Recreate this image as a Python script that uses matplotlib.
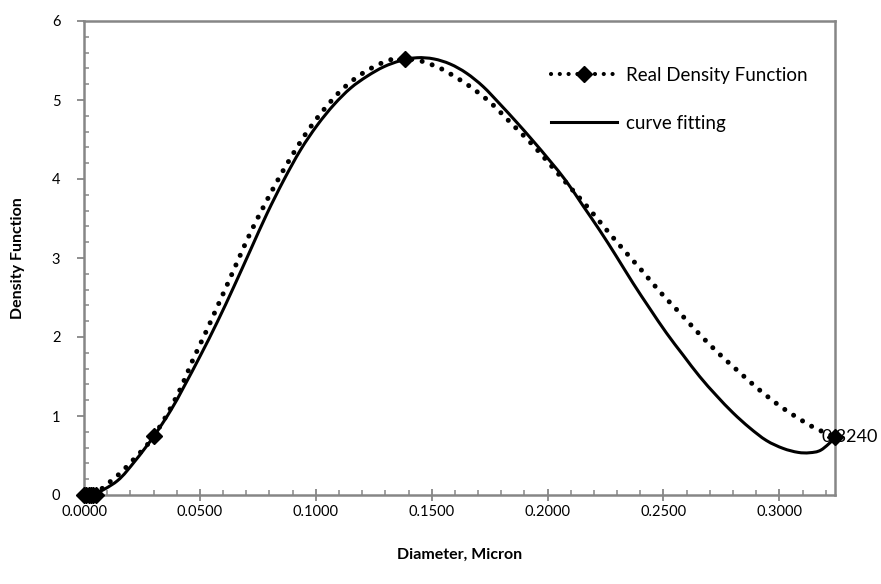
import numpy as np
import matplotlib
matplotlib.use("Agg")
import matplotlib.pyplot as plt
from matplotlib.path import Path
from matplotlib.patches import PathPatch
from matplotlib.ticker import MultipleLocator, FormatStrFormatter
from matplotlib.lines import Line2D

plt.rcParams['font.family'] = ['Lato', 'DejaVu Sans']

# real density function: measured points (markers)
real_x = [0.0000, 0.0010, 0.0020, 0.0030, 0.0040, 0.0050, 0.0302, 0.1387, 0.3240]
real_y = [0.0, 0.0, 0.0, 0.0, 0.0, 0.0, 0.747, 5.52, 0.735]

# points
dot_x = [0.0000, 0.0025, 0.0050, 0.0086, 0.0136, 0.0180, 0.0223, 0.0266, 0.0302,
         0.0366, 0.0420, 0.0468, 0.0520, 0.0570, 0.0619, 0.0668, 0.0718, 0.0773,
         0.0830, 0.0890, 0.0955, 0.1027, 0.1108, 0.1203, 0.1312, 0.1387, 0.1444,
         0.1504, 0.1559, 0.1661, 0.1757, 0.1843, 0.1930, 0.2009, 0.2091, 0.2171,
         0.2249, 0.2329, 0.2407, 0.2487, 0.2569, 0.2652, 0.2739, 0.2828, 0.2918,
         0.3015, 0.3118, 0.3173, 0.3240]
dot_y = [0.0, 0.0, 0.0, 0.105, 0.223, 0.346, 0.478, 0.613, 0.747,
         1.06, 1.37, 1.70, 2.025, 2.35, 2.67, 2.995, 3.32, 3.64,
         3.954, 4.26, 4.565, 4.85, 5.118, 5.34, 5.50, 5.52, 5.50,
         5.443, 5.367, 5.18, 4.958, 4.705, 4.45, 4.19, 3.915, 3.65,
         3.375, 3.10, 2.84, 2.565, 2.31, 2.046, 1.79, 1.553, 1.32,
         1.10, 0.906, 0.82, 0.735]

# curve fitting line
fit_x = [0.0043, 0.0144, 0.0220, 0.0302, 0.0374, 0.0431, 0.0503, 0.0575, 0.0647,
         0.0718, 0.0790, 0.0862, 0.0934, 0.1006, 0.1078, 0.1150, 0.1221, 0.1293,
         0.1365, 0.1437, 0.1509, 0.1580, 0.1650, 0.1722, 0.1794, 0.1866, 0.1938,
         0.2010, 0.2081, 0.2153, 0.2225, 0.2297, 0.2369, 0.2441, 0.2513, 0.2585,
         0.2656, 0.2728, 0.2800, 0.2872, 0.2944, 0.3016, 0.3080, 0.3130, 0.3180,
         0.3240]
fit_y = [0.0, 0.18, 0.43, 0.747, 1.07, 1.37, 1.77, 2.19, 2.64,
         3.10, 3.565, 3.987, 4.367, 4.68, 4.94, 5.15, 5.30, 5.42,
         5.497, 5.535, 5.52, 5.455, 5.34, 5.17, 4.95, 4.72, 4.48,
         4.23, 3.97, 3.66, 3.35, 3.02, 2.68, 2.36, 2.05, 1.77,
         1.50, 1.26, 1.04, 0.85, 0.69, 0.59, 0.54, 0.535, 0.57,
         0.72]


def smooth_path(xs, ys):
    # catmull-rom style bezier, like excel's "smoothed line"
    pts = np.column_stack([xs, ys])
    verts = [pts[0]]
    codes = [Path.MOVETO]
    n = len(pts)
    for i in range(n - 1):
        p0 = pts[i - 1] if i > 0 else pts[i]
        p1 = pts[i]
        p2 = pts[i + 1]
        p3 = pts[i + 2] if i + 2 < n else pts[i + 1]
        verts += [p1 + (p2 - p0) / 6, p2 - (p3 - p1) / 6, p2]
        codes += [Path.CURVE4] * 3
    return Path(verts, codes)


fig = plt.figure(figsize=(8.81, 5.84), dpi=100)
ax = fig.add_axes([84 / 881, 1 - 495 / 584, 751 / 881, 474 / 584])

dotted = PathPatch(smooth_path(dot_x, dot_y), fill=False, edgecolor='black',
                   linewidth=3.6, linestyle=(0, (0.01, 2.1)), capstyle='round', zorder=3)
ax.add_patch(dotted)
solid = PathPatch(smooth_path(fit_x, fit_y), fill=False, edgecolor='black',
                  linewidth=2.2, capstyle='round', zorder=3)
ax.add_patch(solid)
ax.plot(real_x, real_y, linestyle='none', marker='D', markersize=8,
        color='black', clip_on=False, zorder=5)

ax.annotate('%.4f' % real_x[-1], (real_x[-1], real_y[-1]), xytext=(-9.5, 0),
            textcoords='offset points', ha='left', va='center', fontsize=13,
            annotation_clip=False, zorder=6)

ax.set_xlim(0, 0.324)
ax.set_ylim(0, 6)
ax.xaxis.set_major_locator(MultipleLocator(0.05))
ax.xaxis.set_minor_locator(MultipleLocator(0.01))
ax.yaxis.set_major_locator(MultipleLocator(1))
ax.yaxis.set_minor_locator(MultipleLocator(0.2))
ax.xaxis.set_major_formatter(FormatStrFormatter('%.4f'))
ax.yaxis.set_major_formatter(FormatStrFormatter('%d'))

grey = '#868686'
for s in ax.spines.values():
    s.set_color(grey)
    s.set_linewidth(1.8)
ax.tick_params(axis='x', which='major', direction='inout', length=8, width=1.3,
               color=grey, labelsize=10.5, pad=3)
ax.tick_params(axis='x', which='minor', direction='in', length=3.5, width=1.1, color=grey)
ax.tick_params(axis='y', which='major', direction='out', length=5, width=1.3,
               color=grey, labelsize=10.5, pad=12)
ax.tick_params(axis='y', which='minor', direction='in', length=3.5, width=1.1, color=grey)
ax.tick_params(top=False, right=False, which='both')

ax.set_xlabel('Diameter, Micron', fontsize=11.5, fontweight='bold')
ax.set_ylabel('Density Function', fontsize=11.5, fontweight='bold')
ax.xaxis.set_label_coords(0.5, -(555 - 495) / 474)
ax.xaxis.label.set_verticalalignment('center')
ax.yaxis.set_label_coords(-(84 - 18) / 751, 0.5)
ax.yaxis.label.set_verticalalignment('center')

handles = [
    Line2D([], [], color='black', linestyle=(0, (0.01, 2.1)), linewidth=3.0,
           dash_capstyle='round', marker='D', markersize=8),
    Line2D([], [], color='black', linewidth=2.2),
]
ax.legend(handles, ['Real Density Function', 'curve fitting'], frameon=False,
          loc='upper left', bbox_to_anchor=(551 / 881, 1 - 67 / 584),
          bbox_transform=fig.transFigure, fontsize=13.5, handlelength=3.5,
          handletextpad=0.5, labelspacing=1.65, borderaxespad=0, borderpad=0)

fig.savefig('out.png', dpi=100)
